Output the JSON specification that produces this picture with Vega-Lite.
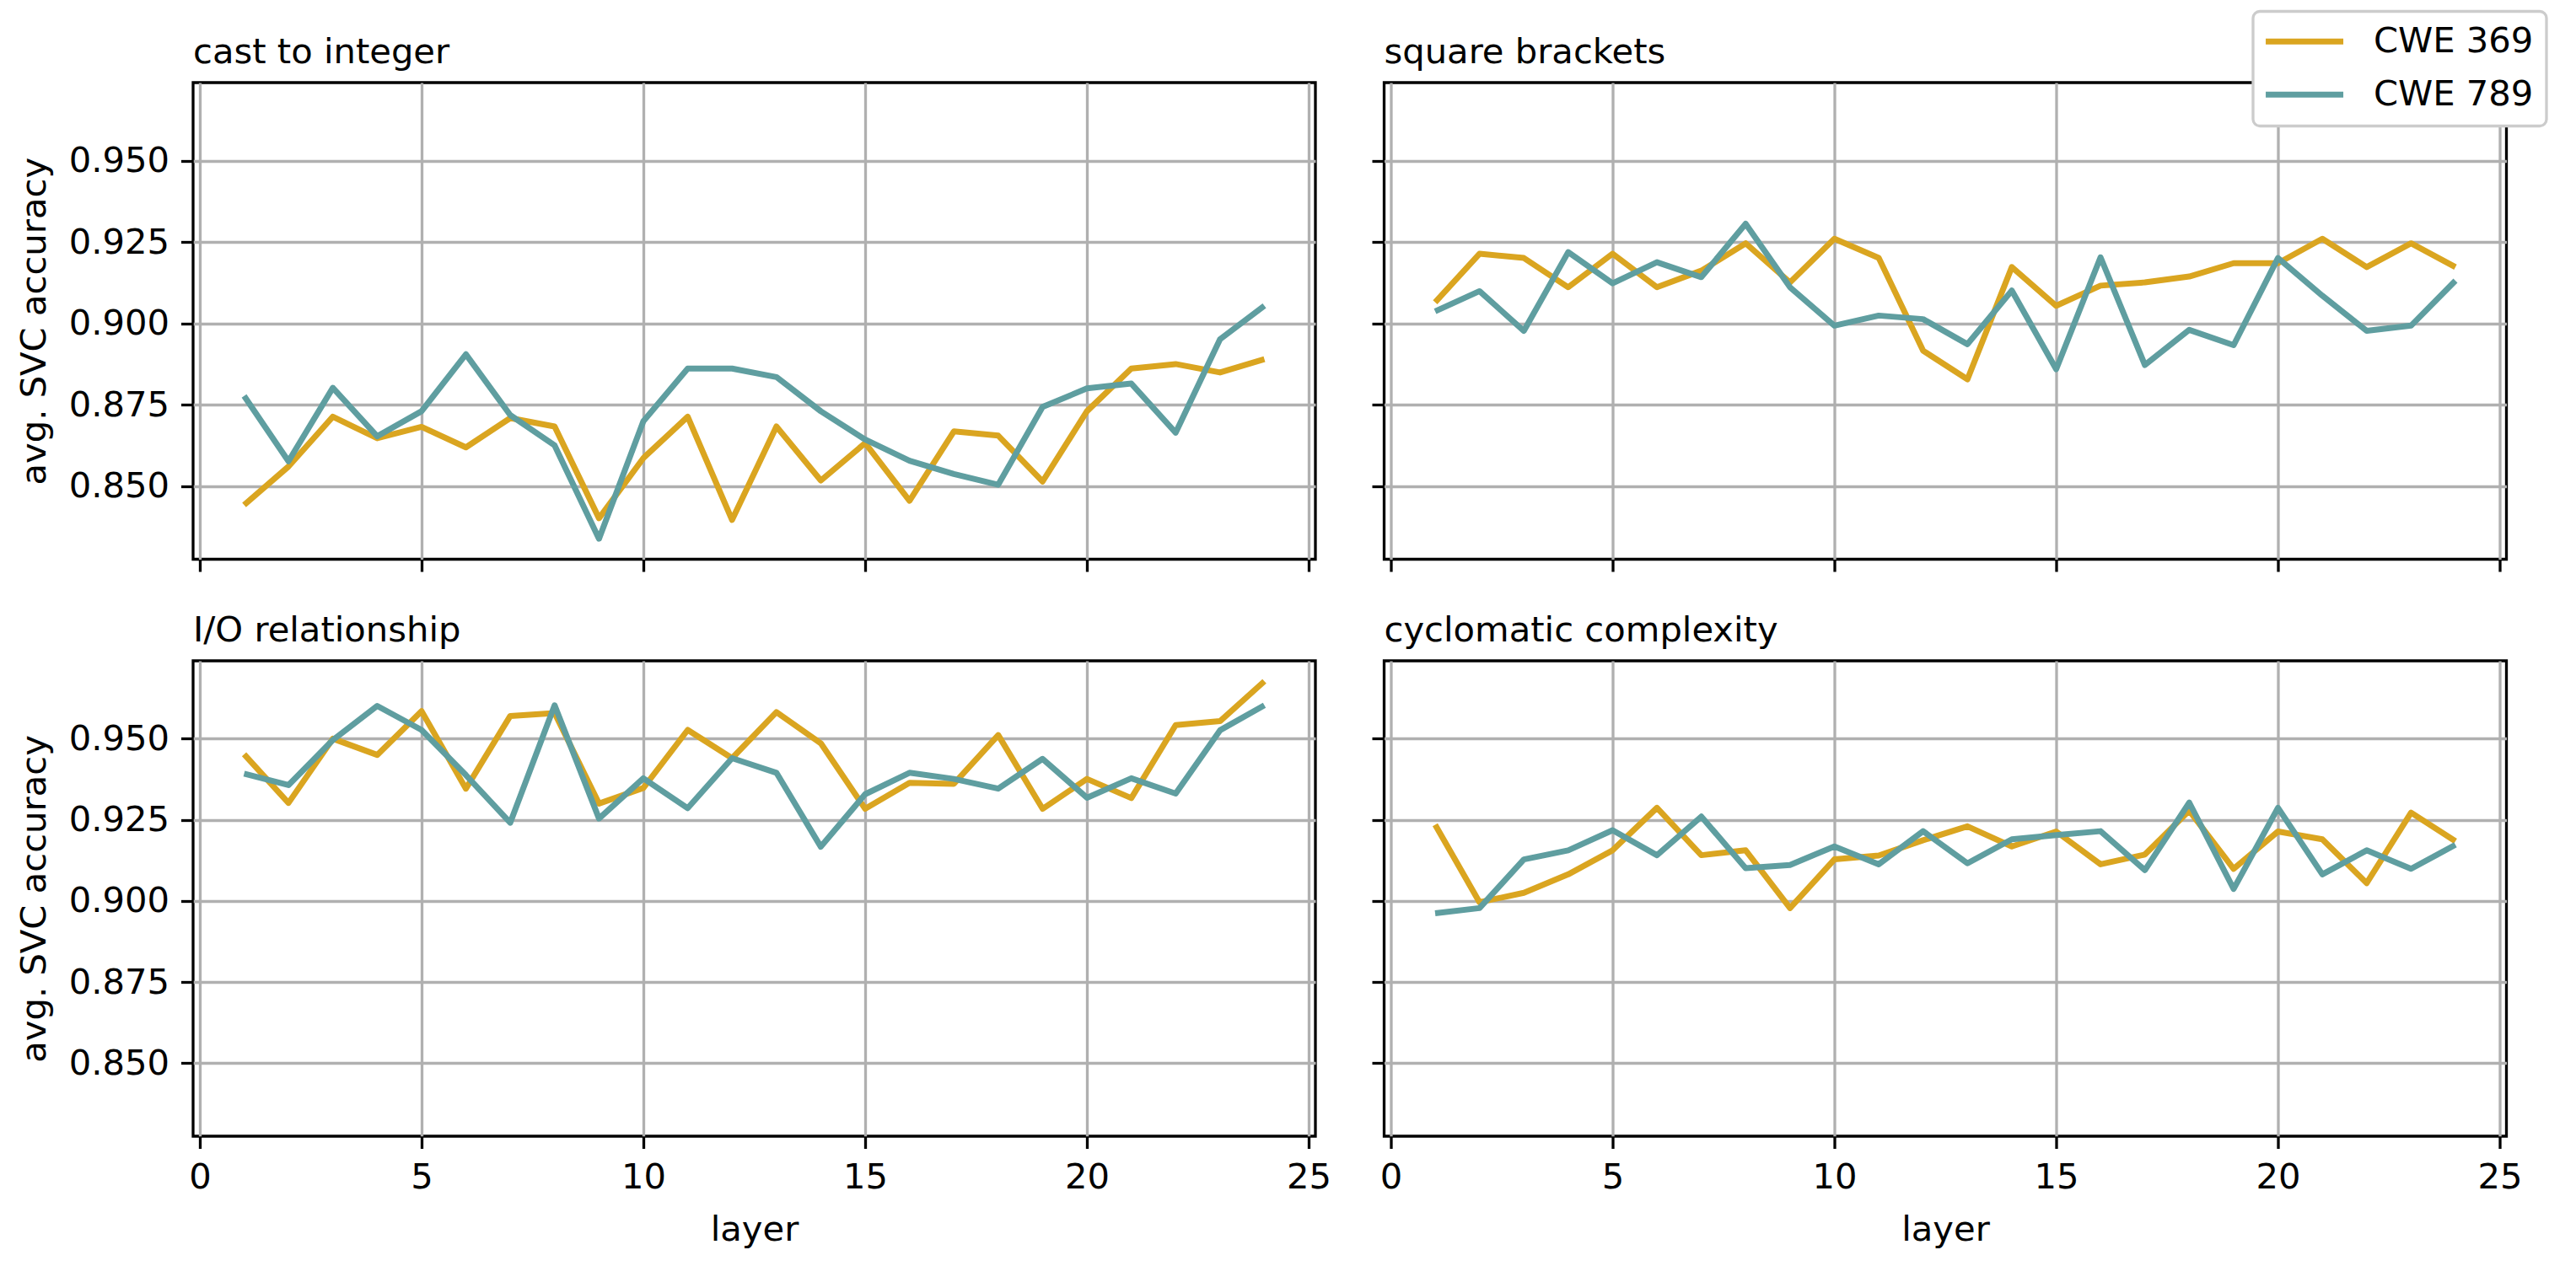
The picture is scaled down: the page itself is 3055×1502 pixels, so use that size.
{
 "$schema": "https://vega.github.io/schema/vega-lite/v6.json",
 "background": "white",
 "padding": {"left": 18, "top": 11, "right": 0, "bottom": 0},
 "datasets": {
  "acc": [
   {"p":"cast to integer","s":"CWE 369","l":1,"v":0.8442},{"p":"cast to integer","s":"CWE 369","l":2,"v":0.856},{"p":"cast to integer","s":"CWE 369","l":3,"v":0.8713},{"p":"cast to integer","s":"CWE 369","l":4,"v":0.8647},{"p":"cast to integer","s":"CWE 369","l":5,"v":0.8682},{"p":"cast to integer","s":"CWE 369","l":6,"v":0.8619},{"p":"cast to integer","s":"CWE 369","l":7,"v":0.8709},{"p":"cast to integer","s":"CWE 369","l":8,"v":0.8683},{"p":"cast to integer","s":"CWE 369","l":9,"v":0.8401},{"p":"cast to integer","s":"CWE 369","l":10,"v":0.8586},{"p":"cast to integer","s":"CWE 369","l":11,"v":0.8713},{"p":"cast to integer","s":"CWE 369","l":12,"v":0.8396},{"p":"cast to integer","s":"CWE 369","l":13,"v":0.8683},{"p":"cast to integer","s":"CWE 369","l":14,"v":0.8517},{"p":"cast to integer","s":"CWE 369","l":15,"v":0.8632},{"p":"cast to integer","s":"CWE 369","l":16,"v":0.8455},{"p":"cast to integer","s":"CWE 369","l":17,"v":0.8668},{"p":"cast to integer","s":"CWE 369","l":18,"v":0.8655},{"p":"cast to integer","s":"CWE 369","l":19,"v":0.8514},{"p":"cast to integer","s":"CWE 369","l":20,"v":0.873},{"p":"cast to integer","s":"CWE 369","l":21,"v":0.8861},{"p":"cast to integer","s":"CWE 369","l":22,"v":0.8875},{"p":"cast to integer","s":"CWE 369","l":23,"v":0.8849},{"p":"cast to integer","s":"CWE 369","l":24,"v":0.889},
   {"p":"cast to integer","s":"CWE 789","l":1,"v":0.8777},{"p":"cast to integer","s":"CWE 789","l":2,"v":0.8576},{"p":"cast to integer","s":"CWE 789","l":3,"v":0.8802},{"p":"cast to integer","s":"CWE 789","l":4,"v":0.8653},{"p":"cast to integer","s":"CWE 789","l":5,"v":0.873},{"p":"cast to integer","s":"CWE 789","l":6,"v":0.8905},{"p":"cast to integer","s":"CWE 789","l":7,"v":0.8718},{"p":"cast to integer","s":"CWE 789","l":8,"v":0.8625},{"p":"cast to integer","s":"CWE 789","l":9,"v":0.8338},{"p":"cast to integer","s":"CWE 789","l":10,"v":0.8699},{"p":"cast to integer","s":"CWE 789","l":11,"v":0.8861},{"p":"cast to integer","s":"CWE 789","l":12,"v":0.8861},{"p":"cast to integer","s":"CWE 789","l":13,"v":0.8835},{"p":"cast to integer","s":"CWE 789","l":14,"v":0.873},{"p":"cast to integer","s":"CWE 789","l":15,"v":0.8643},{"p":"cast to integer","s":"CWE 789","l":16,"v":0.8578},{"p":"cast to integer","s":"CWE 789","l":17,"v":0.8537},{"p":"cast to integer","s":"CWE 789","l":18,"v":0.8504},{"p":"cast to integer","s":"CWE 789","l":19,"v":0.8743},{"p":"cast to integer","s":"CWE 789","l":20,"v":0.88},{"p":"cast to integer","s":"CWE 789","l":21,"v":0.8815},{"p":"cast to integer","s":"CWE 789","l":22,"v":0.8664},{"p":"cast to integer","s":"CWE 789","l":23,"v":0.8951},{"p":"cast to integer","s":"CWE 789","l":24,"v":0.9054},
   {"p":"square brackets","s":"CWE 369","l":1,"v":0.9065},{"p":"square brackets","s":"CWE 369","l":2,"v":0.9214},{"p":"square brackets","s":"CWE 369","l":3,"v":0.9201},{"p":"square brackets","s":"CWE 369","l":4,"v":0.9111},{"p":"square brackets","s":"CWE 369","l":5,"v":0.9214},{"p":"square brackets","s":"CWE 369","l":6,"v":0.9111},{"p":"square brackets","s":"CWE 369","l":7,"v":0.9162},{"p":"square brackets","s":"CWE 369","l":8,"v":0.9246},{"p":"square brackets","s":"CWE 369","l":9,"v":0.9126},{"p":"square brackets","s":"CWE 369","l":10,"v":0.926},{"p":"square brackets","s":"CWE 369","l":11,"v":0.9201},{"p":"square brackets","s":"CWE 369","l":12,"v":0.8916},{"p":"square brackets","s":"CWE 369","l":13,"v":0.8828},{"p":"square brackets","s":"CWE 369","l":14,"v":0.9173},{"p":"square brackets","s":"CWE 369","l":15,"v":0.9054},{"p":"square brackets","s":"CWE 369","l":16,"v":0.9116},{"p":"square brackets","s":"CWE 369","l":17,"v":0.9126},{"p":"square brackets","s":"CWE 369","l":18,"v":0.9144},{"p":"square brackets","s":"CWE 369","l":19,"v":0.9185},{"p":"square brackets","s":"CWE 369","l":20,"v":0.9185},{"p":"square brackets","s":"CWE 369","l":21,"v":0.926},{"p":"square brackets","s":"CWE 369","l":22,"v":0.9173},{"p":"square brackets","s":"CWE 369","l":23,"v":0.9246},{"p":"square brackets","s":"CWE 369","l":24,"v":0.9173},
   {"p":"square brackets","s":"CWE 789","l":1,"v":0.9037},{"p":"square brackets","s":"CWE 789","l":2,"v":0.9099},{"p":"square brackets","s":"CWE 789","l":3,"v":0.8977},{"p":"square brackets","s":"CWE 789","l":4,"v":0.9219},{"p":"square brackets","s":"CWE 789","l":5,"v":0.9123},{"p":"square brackets","s":"CWE 789","l":6,"v":0.9188},{"p":"square brackets","s":"CWE 789","l":7,"v":0.9142},{"p":"square brackets","s":"CWE 789","l":8,"v":0.9306},{"p":"square brackets","s":"CWE 789","l":9,"v":0.9111},{"p":"square brackets","s":"CWE 789","l":10,"v":0.8993},{"p":"square brackets","s":"CWE 789","l":11,"v":0.9024},{"p":"square brackets","s":"CWE 789","l":12,"v":0.9013},{"p":"square brackets","s":"CWE 789","l":13,"v":0.8936},{"p":"square brackets","s":"CWE 789","l":14,"v":0.9101},{"p":"square brackets","s":"CWE 789","l":15,"v":0.8859},{"p":"square brackets","s":"CWE 789","l":16,"v":0.9203},{"p":"square brackets","s":"CWE 789","l":17,"v":0.8872},{"p":"square brackets","s":"CWE 789","l":18,"v":0.898},{"p":"square brackets","s":"CWE 789","l":19,"v":0.8933},{"p":"square brackets","s":"CWE 789","l":20,"v":0.9201},{"p":"square brackets","s":"CWE 789","l":21,"v":0.9085},{"p":"square brackets","s":"CWE 789","l":22,"v":0.8977},{"p":"square brackets","s":"CWE 789","l":23,"v":0.8993},{"p":"square brackets","s":"CWE 789","l":24,"v":0.9131},
   {"p":"I/O relationship","s":"CWE 369","l":1,"v":0.9452},{"p":"I/O relationship","s":"CWE 369","l":2,"v":0.9302},{"p":"I/O relationship","s":"CWE 369","l":3,"v":0.95},{"p":"I/O relationship","s":"CWE 369","l":4,"v":0.945},{"p":"I/O relationship","s":"CWE 369","l":5,"v":0.9585},{"p":"I/O relationship","s":"CWE 369","l":6,"v":0.9346},{"p":"I/O relationship","s":"CWE 369","l":7,"v":0.957},{"p":"I/O relationship","s":"CWE 369","l":8,"v":0.9579},{"p":"I/O relationship","s":"CWE 369","l":9,"v":0.93},{"p":"I/O relationship","s":"CWE 369","l":10,"v":0.9348},{"p":"I/O relationship","s":"CWE 369","l":11,"v":0.9527},{"p":"I/O relationship","s":"CWE 369","l":12,"v":0.944},{"p":"I/O relationship","s":"CWE 369","l":13,"v":0.9582},{"p":"I/O relationship","s":"CWE 369","l":14,"v":0.9486},{"p":"I/O relationship","s":"CWE 369","l":15,"v":0.9284},{"p":"I/O relationship","s":"CWE 369","l":16,"v":0.9364},{"p":"I/O relationship","s":"CWE 369","l":17,"v":0.9361},{"p":"I/O relationship","s":"CWE 369","l":18,"v":0.9511},{"p":"I/O relationship","s":"CWE 369","l":19,"v":0.9284},{"p":"I/O relationship","s":"CWE 369","l":20,"v":0.9376},{"p":"I/O relationship","s":"CWE 369","l":21,"v":0.9317},{"p":"I/O relationship","s":"CWE 369","l":22,"v":0.9542},{"p":"I/O relationship","s":"CWE 369","l":23,"v":0.9554},{"p":"I/O relationship","s":"CWE 369","l":24,"v":0.9677},
   {"p":"I/O relationship","s":"CWE 789","l":1,"v":0.9392},{"p":"I/O relationship","s":"CWE 789","l":2,"v":0.9357},{"p":"I/O relationship","s":"CWE 789","l":3,"v":0.9496},{"p":"I/O relationship","s":"CWE 789","l":4,"v":0.9601},{"p":"I/O relationship","s":"CWE 789","l":5,"v":0.9527},{"p":"I/O relationship","s":"CWE 789","l":6,"v":0.9388},{"p":"I/O relationship","s":"CWE 789","l":7,"v":0.9241},{"p":"I/O relationship","s":"CWE 789","l":8,"v":0.9603},{"p":"I/O relationship","s":"CWE 789","l":9,"v":0.9254},{"p":"I/O relationship","s":"CWE 789","l":10,"v":0.9378},{"p":"I/O relationship","s":"CWE 789","l":11,"v":0.9286},{"p":"I/O relationship","s":"CWE 789","l":12,"v":0.944},{"p":"I/O relationship","s":"CWE 789","l":13,"v":0.9395},{"p":"I/O relationship","s":"CWE 789","l":14,"v":0.9167},{"p":"I/O relationship","s":"CWE 789","l":15,"v":0.9329},{"p":"I/O relationship","s":"CWE 789","l":16,"v":0.9395},{"p":"I/O relationship","s":"CWE 789","l":17,"v":0.9376},{"p":"I/O relationship","s":"CWE 789","l":18,"v":0.9346},{"p":"I/O relationship","s":"CWE 789","l":19,"v":0.9438},{"p":"I/O relationship","s":"CWE 789","l":20,"v":0.9318},{"p":"I/O relationship","s":"CWE 789","l":21,"v":0.9378},{"p":"I/O relationship","s":"CWE 789","l":22,"v":0.9331},{"p":"I/O relationship","s":"CWE 789","l":23,"v":0.9526},{"p":"I/O relationship","s":"CWE 789","l":24,"v":0.9603},
   {"p":"cyclomatic complexity","s":"CWE 369","l":1,"v":0.9235},{"p":"cyclomatic complexity","s":"CWE 369","l":2,"v":0.8996},{"p":"cyclomatic complexity","s":"CWE 369","l":3,"v":0.9025},{"p":"cyclomatic complexity","s":"CWE 369","l":4,"v":0.9082},{"p":"cyclomatic complexity","s":"CWE 369","l":5,"v":0.9156},{"p":"cyclomatic complexity","s":"CWE 369","l":6,"v":0.9287},{"p":"cyclomatic complexity","s":"CWE 369","l":7,"v":0.9141},{"p":"cyclomatic complexity","s":"CWE 369","l":8,"v":0.9156},{"p":"cyclomatic complexity","s":"CWE 369","l":9,"v":0.8978},{"p":"cyclomatic complexity","s":"CWE 369","l":10,"v":0.9128},{"p":"cyclomatic complexity","s":"CWE 369","l":11,"v":0.914},{"p":"cyclomatic complexity","s":"CWE 369","l":12,"v":0.9187},{"p":"cyclomatic complexity","s":"CWE 369","l":13,"v":0.923},{"p":"cyclomatic complexity","s":"CWE 369","l":14,"v":0.9168},{"p":"cyclomatic complexity","s":"CWE 369","l":15,"v":0.9214},{"p":"cyclomatic complexity","s":"CWE 369","l":16,"v":0.9113},{"p":"cyclomatic complexity","s":"CWE 369","l":17,"v":0.9143},{"p":"cyclomatic complexity","s":"CWE 369","l":18,"v":0.9278},{"p":"cyclomatic complexity","s":"CWE 369","l":19,"v":0.9099},{"p":"cyclomatic complexity","s":"CWE 369","l":20,"v":0.9214},{"p":"cyclomatic complexity","s":"CWE 369","l":21,"v":0.919},{"p":"cyclomatic complexity","s":"CWE 369","l":22,"v":0.9055},{"p":"cyclomatic complexity","s":"CWE 369","l":23,"v":0.9272},{"p":"cyclomatic complexity","s":"CWE 369","l":24,"v":0.9184},
   {"p":"cyclomatic complexity","s":"CWE 789","l":1,"v":0.8962},{"p":"cyclomatic complexity","s":"CWE 789","l":2,"v":0.8978},{"p":"cyclomatic complexity","s":"CWE 789","l":3,"v":0.9128},{"p":"cyclomatic complexity","s":"CWE 789","l":4,"v":0.9156},{"p":"cyclomatic complexity","s":"CWE 789","l":5,"v":0.9218},{"p":"cyclomatic complexity","s":"CWE 789","l":6,"v":0.9141},{"p":"cyclomatic complexity","s":"CWE 789","l":7,"v":0.926},{"p":"cyclomatic complexity","s":"CWE 789","l":8,"v":0.9101},{"p":"cyclomatic complexity","s":"CWE 789","l":9,"v":0.9111},{"p":"cyclomatic complexity","s":"CWE 789","l":10,"v":0.9168},{"p":"cyclomatic complexity","s":"CWE 789","l":11,"v":0.9113},{"p":"cyclomatic complexity","s":"CWE 789","l":12,"v":0.9215},{"p":"cyclomatic complexity","s":"CWE 789","l":13,"v":0.9116},{"p":"cyclomatic complexity","s":"CWE 789","l":14,"v":0.919},{"p":"cyclomatic complexity","s":"CWE 789","l":15,"v":0.9203},{"p":"cyclomatic complexity","s":"CWE 789","l":16,"v":0.9215},{"p":"cyclomatic complexity","s":"CWE 789","l":17,"v":0.9095},{"p":"cyclomatic complexity","s":"CWE 789","l":18,"v":0.9303},{"p":"cyclomatic complexity","s":"CWE 789","l":19,"v":0.9037},{"p":"cyclomatic complexity","s":"CWE 789","l":20,"v":0.9287},{"p":"cyclomatic complexity","s":"CWE 789","l":21,"v":0.9082},{"p":"cyclomatic complexity","s":"CWE 789","l":22,"v":0.9156},{"p":"cyclomatic complexity","s":"CWE 789","l":23,"v":0.9099},{"p":"cyclomatic complexity","s":"CWE 789","l":24,"v":0.9173}
  ]
 },
 "data": {"name": "acc"},
 "columns": 2,
 "spacing": {"row": 120, "column": 81.5},
 "bounds": "flush",
 "resolve": {"scale": {"color": "shared", "x": "independent", "y": "independent"}},
 "concat": [
  {
   "title": "cast to integer",
   "width": 1331, "height": 565.5,
   "transform": [{"filter": {"field": "p", "equal": "cast to integer"}}],
   "mark": {"type": "line"},
   "encoding": {
    "x": {"field": "l", "type": "quantitative", "scale": {"domain": [-0.15, 25.15], "nice": false, "zero": false}, "axis": {"values": [0, 5, 10, 15, 20, 25], "labels": false, "title": null}},
    "y": {"field": "v", "type": "quantitative", "scale": {"domain": [0.8275, 0.974], "nice": false, "zero": false}, "axis": {"values": [0.85, 0.875, 0.9, 0.925, 0.95], "format": ".3f", "title": "avg. SVC accuracy", "titlePadding": 19}},
    "color": {"field": "s", "type": "nominal", "scale": {"domain": ["CWE 369", "CWE 789"], "range": ["#DAA520", "#5F9EA0"]}, "legend": {"title": null}}
   }
  },
  {
   "title": "square brackets",
   "width": 1331, "height": 565.5,
   "transform": [{"filter": {"field": "p", "equal": "square brackets"}}],
   "mark": {"type": "line"},
   "encoding": {
    "x": {"field": "l", "type": "quantitative", "scale": {"domain": [-0.15, 25.15], "nice": false, "zero": false}, "axis": {"values": [0, 5, 10, 15, 20, 25], "labels": false, "title": null}},
    "y": {"field": "v", "type": "quantitative", "scale": {"domain": [0.8275, 0.974], "nice": false, "zero": false}, "axis": {"values": [0.85, 0.875, 0.9, 0.925, 0.95], "labels": false, "title": null}},
    "color": {"field": "s", "type": "nominal", "scale": {"domain": ["CWE 369", "CWE 789"], "range": ["#DAA520", "#5F9EA0"]}, "legend": {"title": null}}
   }
  },
  {
   "title": "I/O relationship",
   "width": 1331, "height": 564,
   "transform": [{"filter": {"field": "p", "equal": "I/O relationship"}}],
   "mark": {"type": "line"},
   "encoding": {
    "x": {"field": "l", "type": "quantitative", "scale": {"domain": [-0.15, 25.15], "nice": false, "zero": false}, "axis": {"values": [0, 5, 10, 15, 20, 25], "title": "layer"}},
    "y": {"field": "v", "type": "quantitative", "scale": {"domain": [0.8275, 0.974], "nice": false, "zero": false}, "axis": {"values": [0.85, 0.875, 0.9, 0.925, 0.95], "format": ".3f", "title": "avg. SVC accuracy", "titlePadding": 19}},
    "color": {"field": "s", "type": "nominal", "scale": {"domain": ["CWE 369", "CWE 789"], "range": ["#DAA520", "#5F9EA0"]}, "legend": {"title": null}}
   }
  },
  {
   "title": "cyclomatic complexity",
   "width": 1331, "height": 564,
   "transform": [{"filter": {"field": "p", "equal": "cyclomatic complexity"}}],
   "mark": {"type": "line"},
   "encoding": {
    "x": {"field": "l", "type": "quantitative", "scale": {"domain": [-0.15, 25.15], "nice": false, "zero": false}, "axis": {"values": [0, 5, 10, 15, 20, 25], "title": "layer"}},
    "y": {"field": "v", "type": "quantitative", "scale": {"domain": [0.8275, 0.974], "nice": false, "zero": false}, "axis": {"values": [0.85, 0.875, 0.9, 0.925, 0.95], "labels": false, "title": null}},
    "color": {"field": "s", "type": "nominal", "scale": {"domain": ["CWE 369", "CWE 789"], "range": ["#DAA520", "#5F9EA0"]}, "legend": {"title": null}}
   }
  }
 ],
 "config": {
  "font": "DejaVu Sans",
  "view": {"stroke": "black", "strokeWidth": 3.3},
  "line": {"strokeWidth": 7, "strokeJoin": "round"},
  "axis": {
   "grid": true, "gridColor": "#b0b0b0", "gridWidth": 3.3, "gridOpacity": 1,
   "domain": false,
   "tickColor": "black", "tickWidth": 3.3, "tickSize": 14.5, "tickOpacity": 1,
   "labelFont": "DejaVu Sans", "labelFontSize": 41.7, "labelColor": "black", "labelPadding": 14, "labelFlush": false, "labelOverlap": false,
   "titleFont": "DejaVu Sans", "titleFontSize": 41.7, "titleFontWeight": "normal", "titleColor": "black", "titlePadding": 20
  },
  "title": {"font": "DejaVu Sans", "fontSize": 41.7, "fontWeight": "normal", "color": "black", "anchor": "start", "frame": "group", "baseline": "alphabetic", "offset": 14},
  "legend": {
   "orient": "none", "legendX": 2443, "legendY": -84.5,
   "symbolType": "M-3,0L3,0", "symbolStrokeWidth": 7, "symbolSize": 940.4, "symbolOffset": 25.2,
   "labelFont": "DejaVu Sans", "labelFontSize": 41.7, "labelColor": "black", "labelOffset": 61, "labelLimit": 0,
   "padding": 15, "rowPadding": 20,
   "strokeColor": "#cccccc", "strokeWidth": 3.3, "cornerRadius": 8, "fillColor": "white"
  }
 }
}
